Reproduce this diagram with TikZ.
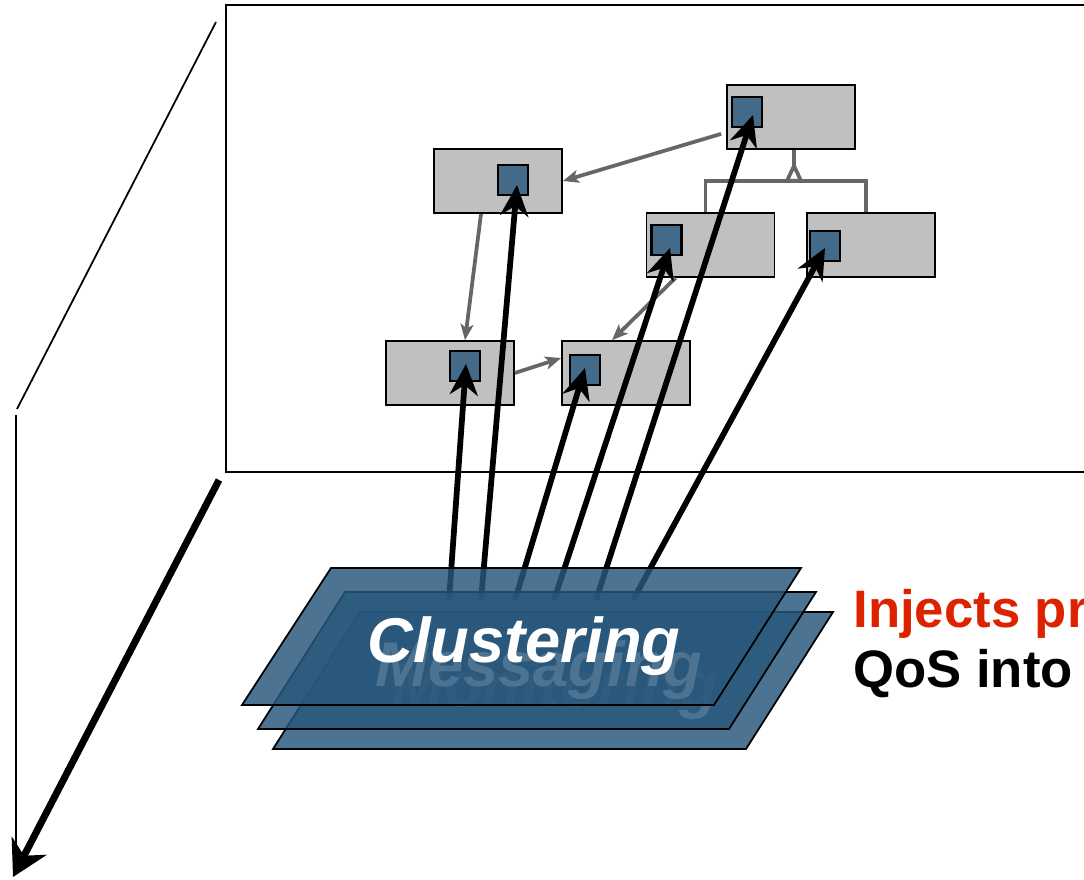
\documentclass[tikz,border=0pt]{standalone}
\usepackage{fontspec}
\setmainfont{Liberation Sans}
\usetikzlibrary{arrows.meta,calc}
\definecolor{boxgray}{RGB}{192,192,192}
\definecolor{sqblue}{RGB}{67,106,136}
\definecolor{planeblue}{RGB}{40,87,123}
\definecolor{linkgray}{RGB}{102,102,102}
\definecolor{injred}{RGB}{221,34,0}
\begin{document}
\begin{tikzpicture}[x=0.02cm,y=-0.02cm,
  comp/.style={draw=black, line width=0.035cm, fill=boxgray, minimum width=2.56cm, minimum height=1.28cm, inner sep=0pt},
  port/.style={draw=black, line width=0.045cm, fill=sqblue, minimum size=0.6cm, inner sep=0pt},
  link/.style={draw=linkgray, line width=0.075cm, -{Stealth[length=0.32cm,width=0.26cm,inset=0.08cm]}},
  uml/.style={draw=linkgray, line width=0.075cm},
  inj/.style={line width=0.115cm, -{Stealth[length=0.62cm,width=0.56cm,inset=0.2cm]}},
  axis/.style={line width=0.14cm, -{Stealth[length=0.7cm,width=0.78cm,inset=0.22cm]}},
  thinline/.style={line width=0.035cm},
  plane/.style={draw=black, line width=0.035cm, fill=planeblue, fill opacity=0.83},
  ptext/.style={font=\fontsize{36pt}{40pt}\selectfont\bfseries\itshape, inner sep=0pt, anchor=base},
  side/.style={font=\fontsize{30pt}{36pt}\selectfont\bfseries, inner sep=0pt, anchor=base west}]
\useasboundingbox (0,0) rectangle (1084,879);
\clip (0,0) rectangle (1084,879);

% frame and axes
\draw[thinline] (226,5) rectangle (1110,472);
\coordinate (d1) at (216,22);
\coordinate (d2) at (17,409);
\draw[thinline] (d1) -- (d2);
\coordinate (v1) at (16,415);
\coordinate (v2) at (16,862);
\draw[thinline] (v1) -- (v2);
\coordinate (t1) at (219,480);
\coordinate (t2) at (13,877);
\draw[axis] (t1) -- (t2);

% components
\node[comp] (A) at (498,181) {};
\node[comp] (B) at (791,117) {};
\node[comp] (C) at (710.5,245) {};
\node[comp] (D) at (871,245) {};
\node[comp] (E) at (450,373) {};
\node[comp] (F) at (626,373) {};

% links
\draw[link] ($(B.south west)+(-5,-16)$) -- (A.east);
\draw[link] ($(A.south)+(-17,0)$) -- ($(E.north)+(15,0)$);
\draw[link] (E.east) -- ($(F.west)+(0,-15)$);
\draw[link] ($(C.south)+(-35,0)$) -- ($(F.north)+(-14,0)$);

% inheritance
\coordinate (ih) at ($(B.south)+(3,0)$);
\coordinate (tri) at ($(ih)+(0,16)$);
\draw[uml] (ih) -- (tri);
\draw[uml] ($(C.north)+(-5,0)$) |- ($(tri)+(0,15)$) -| ($(D.north)+(-5,0)$);
\draw[uml, fill=white, line join=miter] (tri) -- ++(-7,15) -- ++(14,0) -- cycle;

% ports
\node[port] (sA) at (513,180) {};
\node[port] (sB) at (747,112) {};
\node[port] (sC) at (666.5,240) {};
\node[port] (sD) at (825,246) {};
\node[port] (sE) at (465,366) {};
\node[port] (sF) at (585,370) {};

% injections
\coordinate (q1) at (449,600);
\coordinate (q2) at (481,600);
\coordinate (q3) at (515,600);
\coordinate (q4) at (554,600);
\coordinate (q5) at (596,600);
\coordinate (q6) at (633,600);
\draw[inj] (q1) -- ($(sE.center)+(1,-2)$);
\draw[inj] (q2) -- ($(sA.center)+(4,5)$);
\draw[inj] (q3) -- ($(sF.center)+(0,-2)$);
\draw[inj] (q4) -- ($(sC.center)+(3.5,8)$);
\draw[inj] (q5) -- ($(sB.center)+(6,3)$);
\draw[inj] (q6) -- ($(sD.center)+(0,2)$);

% planes
\draw[plane] (273,749) -- (360,612) -- (833,612) -- (746,749) -- cycle;
\node[ptext, text=white] (mon) at (555,706) {Monitoring};
\draw[plane] (258,729) -- (345,592) -- (816,592) -- (729,729) -- cycle;
\node[ptext, text=white] (msg) at (539,686) {Messaging};
\draw[plane] (242,705) -- (331,568) -- (801,568) -- (714,705) -- cycle;
\node[ptext, text=white] (clu) at (524,662) {Clustering};

% side text
\node[side, text=injred] (inj1) at (853,627) {Injects pr};
\node[side, text=black] (inj2) at (853,687) {QoS into};
\end{tikzpicture}
\end{document}
